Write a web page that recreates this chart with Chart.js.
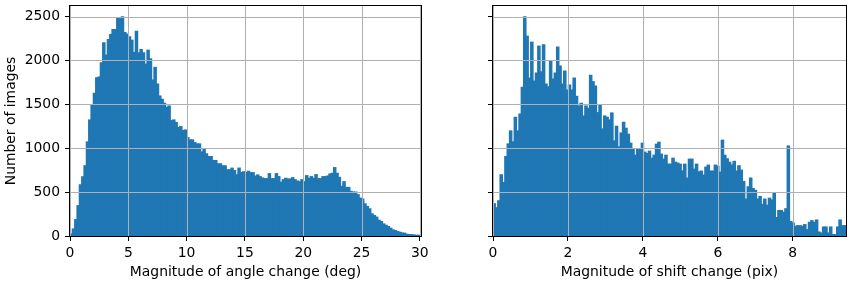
<!DOCTYPE html>
<html>
<head>
<meta charset="utf-8">
<script src="https://cdn.jsdelivr.net/npm/chart.js@4.4.1/dist/chart.umd.min.js"></script>
<style>
  html, body { margin: 0; padding: 0; background: #fff; }
  #wrap { position: relative; width: 849px; height: 284px; }
  canvas { position: absolute; top: 0; }
  #chartAngle { left: 0; }
  #chartShift { left: 440px; }
</style>
</head>
<body>
<div id="wrap">
  <canvas id="chartAngle" width="440" height="284"></canvas>
  <canvas id="chartShift" width="409" height="284"></canvas>
</div>
<script>
// Two histograms (150 bins each).

const ANGLE_BIN_W = 0.2;      // deg per bin
const ANGLE_MAX = 30.1;
const SHIFT_BIN_W = 0.0628;   // pix per bin
const SHIFT_MAX = 9.42;
const Y_MAX = 2621;

const ANGLE_TICKS = [0, 5, 10, 15, 20, 25, 30];
const SHIFT_TICKS = [0, 2, 4, 6, 8];
const COUNT_TICKS = [0, 500, 1000, 1500, 2000, 2500];

const angleCounts = [
    23, 80, 186, 345, 583, 674, 800, 1072, 1322, 1492,
    1625, 1803, 1811, 1974, 2201, 2061, 2239, 2296, 2352, 2352,
    2477, 2477, 2496, 2318, 2300, 2270, 2231, 2091, 2333, 2087,
    2125, 2087, 1958, 2117, 2019, 1777, 1921, 1731, 1595, 1557,
    1511, 1466, 1481, 1314, 1322, 1292, 1235, 1246, 1201, 1208,
    1121, 1095, 1095, 1064, 1049, 1049, 958, 989, 936, 905,
    905, 860, 860, 822, 822, 799, 799, 754, 754, 773,
    746, 697, 773, 723, 731, 723, 737, 721, 721, 683,
    695, 676, 660, 653, 653, 710, 653, 653, 710, 676,
    611, 641, 657, 649, 649, 664, 641, 626, 618, 641,
    618, 687, 657, 676, 657, 699, 653, 653, 676, 676,
    683, 706, 714, 779, 714, 668, 565, 618, 553, 553,
    508, 500, 500, 470, 431, 420, 366, 336, 309, 252,
    233, 214, 179, 164, 137, 122, 107, 88, 69, 61,
    50, 42, 34, 31, 19, 15, 15, 11, 8, 8
];

const shiftCounts = [
    367, 322, 401, 697, 610, 905, 1049, 1197, 1072, 1352,
    1197, 1390, 1693, 2496, 2277, 1799, 2208, 1765, 1856, 2163,
    1871, 2178, 1731, 1701, 1992, 1788, 1856, 2152, 1936, 1731,
    1879, 1663, 1720, 1663, 1799, 1591, 1481, 1511, 1367, 1481,
    1455, 1830, 1758, 1708, 1405, 1492, 1220, 1367, 1352, 1322,
    1402, 1083, 1250, 1015, 1174, 1295, 1227, 1159, 1057, 989,
    920, 989, 989, 1057, 955, 939, 966, 886, 920, 1045,
    1068, 932, 875, 920, 818, 818, 886, 841, 830, 818,
    742, 818, 659, 875, 875, 761, 818, 731, 739, 693,
    784, 807, 739, 739, 807, 795, 727, 1091, 920, 880,
    840, 810, 850, 740, 800, 750, 620, 420, 560, 660,
    540, 520, 420, 450, 360, 420, 350, 430, 410, 490,
    210, 290, 290, 270, 310, 1025, 165, 148, 110, 117,
    117, 110, 129, 72, 155, 174, 155, 182, 45, 34,
    102, 102, 34, 102, 15, 15, 102, 182, 117, 117
];

const BAR_COLOR = '#1f77b4';
const GRID_COLOR = '#b0b0b0';
const FONT = { family: '"DejaVu Sans", sans-serif', size: 13.9 };

// matplotlib draws its grid above the bars, then the axes frame
const gridOnTop = {
    id: 'gridOnTop',
    afterDatasetsDraw(chart) {
        const { ctx, chartArea: a, scales: { x, y } } = chart;
        ctx.save();
        ctx.lineWidth = 1;
        ctx.strokeStyle = GRID_COLOR;
        ctx.beginPath();
        x.ticks.forEach(t => {
            const p = Math.round(x.getPixelForValue(t.value)) + 0.5;
            ctx.moveTo(p, a.top); ctx.lineTo(p, a.bottom);
        });
        y.ticks.forEach(t => {
            const p = Math.round(y.getPixelForValue(t.value)) + 0.5;
            ctx.moveTo(a.left, p); ctx.lineTo(a.right, p);
        });
        ctx.stroke();
        ctx.strokeStyle = '#000';
        const l = Math.round(a.left) - 0.5, t = Math.round(a.top) - 0.5;
        const r = Math.round(a.right) + 0.5, b = Math.round(a.bottom) + 0.5;
        ctx.strokeRect(l, t, r - l, b - t);
        ctx.restore();
    }
};

function histData(counts, binW) {
    return counts.map((c, i) => ({ x: binW * (i + 0.5), y: c }));
}

function makeHist(canvasId, counts, binW, xMax, xTicks, xTitle, opts) {
    return new Chart(document.getElementById(canvasId), {
        type: 'bar',
        data: {
            datasets: [{
                data: histData(counts, binW),
                backgroundColor: BAR_COLOR,
                borderWidth: 0,
                barPercentage: 1,
                categoryPercentage: 1,
                inflateAmount: 0.6
            }]
        },
        options: {
            responsive: false,
            animation: false,
            events: [],
            layout: { padding: { top: 6, right: opts.padRight, bottom: 0, left: 0 } },
            plugins: { legend: { display: false }, tooltip: { enabled: false } },
            scales: {
                x: {
                    type: 'linear',
                    min: 0,
                    max: xMax,
                    offset: false,
                    afterBuildTicks: s => { s.ticks = xTicks.map(v => ({ value: v })); },
                    afterFit: s => { s.height = 48; s.paddingLeft = 0; s.paddingRight = 0; },
                    grid: { offset: false, drawOnChartArea: false, tickLength: 5, tickColor: '#000', tickWidth: 1 },
                    border: { display: true, color: '#000', width: 1 },
                    ticks: { color: '#000', font: FONT, padding: 4, maxRotation: 0, callback: v => String(v) },
                    title: { display: true, text: xTitle, color: '#000', font: FONT, padding: { top: 0, bottom: 3.5 } }
                },
                y: {
                    type: 'linear',
                    min: 0,
                    max: Y_MAX,
                    afterBuildTicks: s => { s.ticks = COUNT_TICKS.map(v => ({ value: v })); },
                    afterFit: s => { s.width = opts.yWidth; s.paddingTop = 0; s.paddingBottom = 0; },
                    grid: { drawOnChartArea: false, tickLength: 5, tickColor: '#000', tickWidth: 1 },
                    border: { display: true, color: '#000', width: 1 },
                    ticks: {
                        color: '#000', font: FONT, padding: 5,
                        callback: v => opts.yLabels ? String(v) : ''
                    },
                    title: {
                        display: !!opts.yTitle, text: opts.yTitle || '', color: '#000', font: FONT,
                        padding: { top: 3, bottom: 0 }
                    }
                }
            }
        },
        plugins: [gridOnTop]
    });
}

makeHist('chartAngle', angleCounts, ANGLE_BIN_W, ANGLE_MAX, ANGLE_TICKS,
    'Magnitude of angle change (deg)',
    { padRight: 19, yWidth: 70, yLabels: true, yTitle: 'Number of images' });

makeHist('chartShift', shiftCounts, SHIFT_BIN_W, SHIFT_MAX, SHIFT_TICKS,
    'Magnitude of shift change (pix)',
    { padRight: 3, yWidth: 53, yLabels: false, yTitle: '' });
</script>
</body>
</html>
